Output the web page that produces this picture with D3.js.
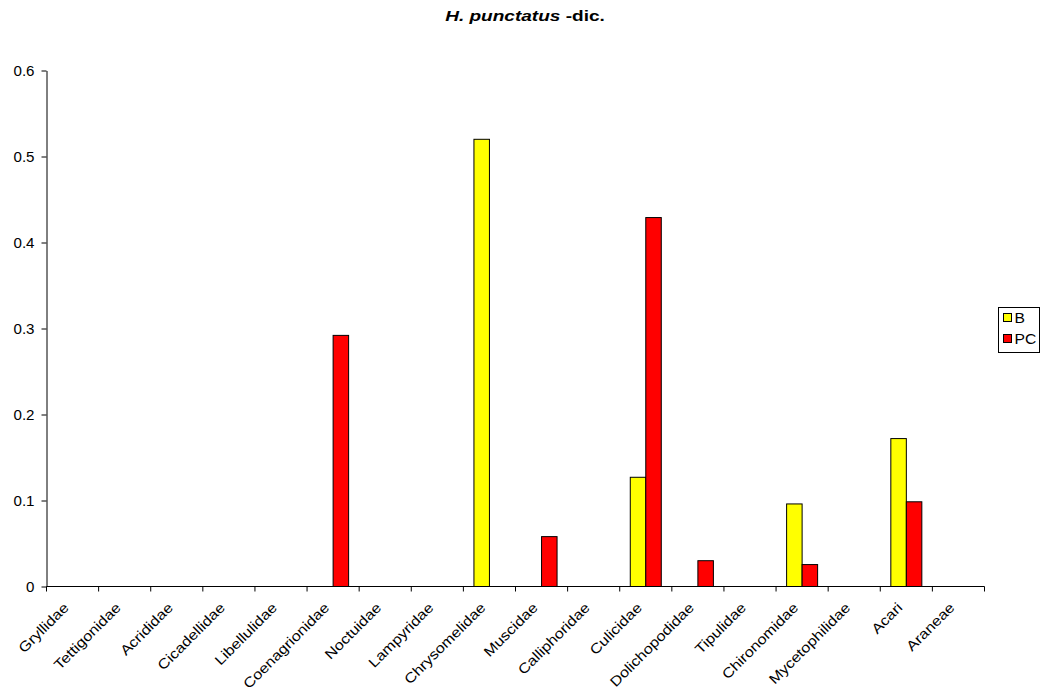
<!DOCTYPE html>
<html>
<head>
<meta charset="utf-8">
<script src="https://cdn.jsdelivr.net/npm/d3@7"></script>
<style>
  html, body { margin: 0; padding: 0; background: #fff; }
  svg { display: block; }
  text { font-family: "Liberation Sans", Arial, sans-serif; }
</style>
</head>
<body>
<svg id="chart" width="1040" height="691"></svg>
<script>
const categories = ["Gryllidae","Tettigonidae","Acrididae","Cicadellidae","Libellulidae","Coenagrionidae","Noctuidae","Lampyridae","Chrysomelidae","Muscidae","Calliphoridae","Culicidae","Dolichopodidae","Tipulidae","Chironomidae","Mycetophilidae","Acari","Araneae"];
const seriesNames = ["B", "PC"];
const valuesB  = [0,0,0,0,0,0,0,0,0.520,0,0,0.127,0,0,0.096,0,0.172,0];
const valuesPC = [0,0,0,0,0,0.292,0,0,0,0.058,0,0.429,0.030,0,0.0255,0,0.0985,0];
const seriesColors = ["#FFFF00", "#FF0000"];
const yTicks = [0, 0.1, 0.2, 0.3, 0.4, 0.5, 0.6];

const svg = d3.select("#chart");
const mLeft = 46.5, mRight = 984.5, mTop = 70.5, mBottom = 586.5;

const x = d3.scaleBand().domain(categories).range([mLeft, mRight]).paddingInner(0).paddingOuter(0);
const bw = x.bandwidth();
const groupFrac = 31 / 52.1;
const x1 = d3.scaleBand().domain(seriesNames)
  .range([bw * (1 - groupFrac) / 2, bw * (1 + groupFrac) / 2]).padding(0);
const y = d3.scaleLinear().domain([0, 0.6]).range([mBottom, mTop]);

// Title
const title = svg.append("text")
  .attr("transform", "translate(525,21) scale(1.27,1)")
  .attr("text-anchor", "middle")
  .style("font-size", "15px").style("font-weight", "bold");
title.append("tspan").style("font-style", "italic").text("H. punctatus");
title.append("tspan").text(" -dic.");

// Bars
const data = categories.map((c, i) => ({c, vals: [valuesB[i], valuesPC[i]]}));
const groups = svg.append("g").selectAll("g").data(data).join("g")
  .attr("transform", d => `translate(${x(d.c)},0)`);
groups.selectAll("rect")
  .data(d => d.vals.map((v, k) => ({v, s: seriesNames[k], k})).filter(e => e.v > 0))
  .join("rect")
  .attr("x", e => x1(e.s))
  .attr("y", e => y(e.v))
  .attr("width", x1.bandwidth())
  .attr("height", e => y(0) - y(e.v))
  .attr("fill", e => seriesColors[e.k])
  .attr("stroke", "#000")
  .attr("stroke-width", 1);

// Y axis
const yAxis = d3.axisLeft(y).tickValues(yTicks).tickSize(5).tickSizeOuter(0)
  .tickFormat(d => d === 0 ? "0" : d3.format(".1f")(d));
const gy = svg.append("g").attr("transform", `translate(${mLeft},0)`).call(yAxis);
gy.select(".domain").attr("stroke", "#000");
gy.selectAll(".tick line").attr("stroke", "#000");
gy.selectAll(".tick text").style("font-size", "14px").attr("fill", "#000")
  .attr("x", 0).attr("dy", null)
  .attr("transform", "translate(-12,5) scale(1.08,1)");

// X axis
const xAxis = d3.axisBottom(x).tickSize(0).tickFormat("");
const gx = svg.append("g").attr("transform", `translate(0,${mBottom})`).call(xAxis);
gx.select(".domain").attr("stroke", "#000").attr("d", `M${mLeft},0H${mRight}`);
const boundaries = categories.map(c => x(c)).concat([mRight]);
gx.selectAll(".bnd").data(boundaries).join("line").attr("class", "bnd")
  .attr("x1", d => d).attr("x2", d => d).attr("y1", 0).attr("y2", 5)
  .attr("stroke", "#000");

// X labels rotated
svg.append("g").selectAll("text").data(categories).join("text")
  .attr("transform", c => `translate(${x(c) + bw / 2 - 3},${mBottom + 22}) rotate(-45) scale(1.16,1)`)
  .attr("text-anchor", "end")
  .style("font-size", "14px")
  .text(c => c);

// Legend
const lg = svg.append("g").attr("transform", "translate(998.5,307.5)");
lg.append("rect").attr("width", 41).attr("height", 45).attr("fill", "#fff").attr("stroke", "#000");
seriesNames.forEach((s, k) => {
  lg.append("rect").attr("x", 5).attr("y", 6 + k * 21).attr("width", 8).attr("height", 8)
    .attr("fill", seriesColors[k]).attr("stroke", "#000");
  lg.append("text").attr("transform", `translate(16,${15 + k * 21}) scale(1.12,1)`)
    .style("font-size", "14px").text(s);
});
</script>
</body>
</html>
